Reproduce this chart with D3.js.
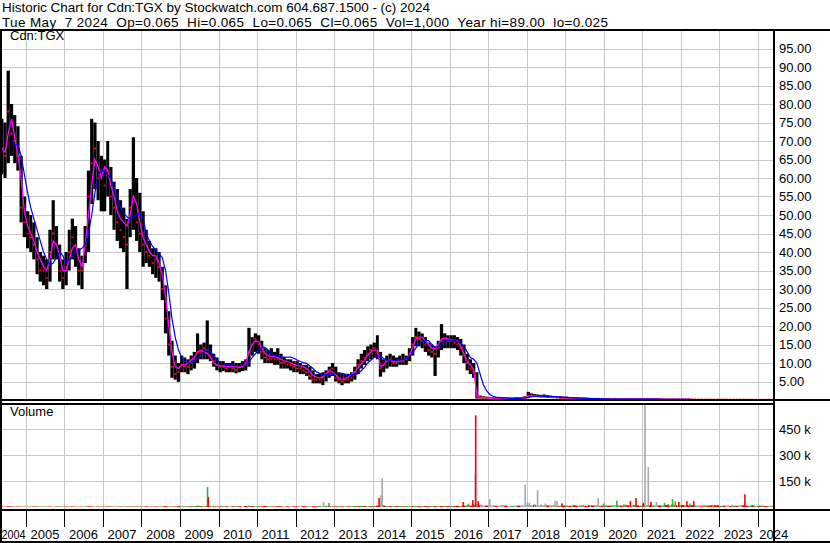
<!DOCTYPE html>
<html><head><meta charset="utf-8">
<script src="https://cdn.jsdelivr.net/npm/d3@7"></script>
<style>
html,body{margin:0;padding:0;background:#fff;}
svg{display:block;font-family:"Liberation Sans",Arial,sans-serif;}
</style></head><body>
<svg id="c" width="830" height="543"></svg>
<script>
// ---------------- DATA ----------------
const titleLine = "Historic Chart for Cdn:TGX by Stockwatch.com 604.687.1500 - (c) 2024";
const quoteLine = "Tue May  7 2024  Op=0.065  Hi=0.065  Lo=0.065  Cl=0.065  Vol=1,000  Year hi=89.00  lo=0.025";
const symbolLabel = "Cdn:TGX";
const volumeLabel = "Volume";
const firstMonth = "2004-05";               // monthly bars from May 2004 to May 2024
const yearLabels = [2004,2005,2006,2007,2008,2009,2010,2011,2012,2013,2014,2015,2016,2017,2018,2019,2020,2021,2022,2023,2024];
const priceTicks = [5,10,15,20,25,30,35,40,45,50,55,60,65,70,75,80,85,90,95];
const volumeTicks = [150,300,450];          // thousands

const high = [
 76,75,89,80,77,74,66,55,
 51,50,48,44,40,39,38,46,54,47,42,38,
 40,46,49,47,41,39,47,62,76,75,70,66,
 65,70,63,59,57,54,52,49,57,71,60,56,
 51,46,43,41,41,40,36,31,24,16,12,10,
 12,11.5,11,12,13,18,15,15.5,21.5,15,12.5,11.5,
 10.5,10.5,10,10,10.5,10,10,10.5,11,19.5,17,18,
 17.5,16,14,13.5,14,13,14,12.5,11.5,11,11,10.5,
 10.5,10,9.5,9.5,9,8,7,7,7.5,8,9,10,
 9,7.5,7,7,7,7.5,9,11,12.5,13.5,14.5,15,
 15.5,17.5,13,11,12,12.5,12,11.5,12,12.5,12,14,
 17,19.5,18.5,18,17,15.5,15,14.5,16,20.5,18,17.5,
 17.5,17.5,17,16.5,15,12.5,11,10,7.5,1.2,1,0.9,
 0.8,0.8,0.7,0.7,0.8,0.7,0.6,0.6,0.7,0.7,0.8,1.0,
 2.2,1.8,1.6,1.5,1.4,1.5,1.3,1.2,1.1,1.0,1.0,0.9,
 0.9,0.8,0.8,0.7,0.7,0.6,0.6,0.6,0.5,0.5,0.5,0.5,
 0.5,0.45,0.4,0.4,0.4,0.4,0.4,0.4,0.4,0.35,0.35,0.35,
 0.4,0.45,0.4,0.35,0.35,0.35,0.3,0.3,0.3,0.3,0.3,0.3,
 0.3,0.3,0.3,0.25,0.25,0.25,0.2,0.2,0.2,0.2,0.2,0.2,
 0.2,0.2,0.18,0.18,0.15,0.15,0.15,0.15,0.12,0.12,0.12,0.1,
 0.1,0.1,0.09,0.08,0.065];
const low = [
 61,60,64,66,64,62,48,44,
 41,40,38,34,32,31,30,32,38,38,32,30,
 31,35,38,36,31,30,37,40,53,57,54,51,
 51,55,50,46,43,41,40,30,44,46,43,40,
 36,37,36,34,33,32,27,18,12,6,5.5,4.9,
 7.5,7.5,7,8,8.5,10,11,11,11,10.5,9,8,
 7.5,7.8,7.5,7.5,7.5,7.2,7.5,7.8,8,9,12,13,
 12.5,11,10,10,10,9.5,9.5,8.5,8.5,8.5,8,7.5,
 7.5,7,7,6.5,5.5,4.5,4.5,4.5,4,5,6,6.5,
 5,4.5,4,4.5,4.5,5,5.5,7,8.5,9.5,10.5,11,
 11.5,11,6.3,7.5,8.5,9,9,9,9.5,9.5,9.5,10.5,
 12,14.5,14.5,14,13,12,11.5,6.5,11.5,13.5,14,14,
 14,14,13.5,12,10,8,7,6,0.4,0.4,0.4,0.4,
 0.4,0.4,0.3,0.3,0.3,0.3,0.3,0.3,0.3,0.3,0.3,0.4,
 0.5,0.8,0.8,0.8,0.7,0.7,0.6,0.6,0.5,0.5,0.4,0.4,
 0.4,0.3,0.3,0.3,0.3,0.2,0.2,0.2,0.2,0.2,0.2,0.2,
 0.15,0.15,0.1,0.15,0.15,0.15,0.15,0.15,0.15,0.12,0.12,0.12,
 0.12,0.15,0.15,0.12,0.12,0.12,0.1,0.1,0.1,0.1,0.1,0.1,
 0.1,0.1,0.1,0.08,0.08,0.08,0.07,0.07,0.07,0.06,0.06,0.06,
 0.06,0.06,0.05,0.05,0.05,0.05,0.04,0.04,0.04,0.04,0.03,0.03,
 0.03,0.03,0.025,0.04,0.05];
const close = [
 68,66,78,72,70,66,52,48,
 45,44,42,38,35,35,33,40,45,42,35,33,
 36,40,44,40,35,35,42,55,64,68,60,62,
 58,62,55,52,48,46,44,42,52,55,48,45,
 42,40,39,37,38,36,30,22,15,9,7,7.5,
 9.5,9,9,10,11,13,13,14,13.5,12,10.5,9.5,
 9,9,8.5,9,8.5,8,9,9,9.5,13,15,16.5,
 15,13,11.5,11,11,11,11,10,10,9.5,9.5,9,
 8.5,8.5,8,7.5,6.5,5.5,5.5,5.5,6,7,7.5,8.5,
 6,5.5,5,5.5,5.5,6,7.5,9.5,10.5,11.5,12.5,13.5,
 14,13,8.5,9.5,10.5,11,10,10,10.5,10.5,11,12.5,
 15,17,16.5,16,15,13.5,13,12.5,14,16,16.5,16,
 16,15.5,15,14,12,10,8.5,7.5,0.8,0.7,0.6,0.6,
 0.6,0.5,0.5,0.5,0.5,0.4,0.4,0.4,0.5,0.5,0.6,0.7,
 1.2,1.2,1.1,1.0,1.0,1.0,0.9,0.8,0.8,0.7,0.6,0.6,
 0.6,0.5,0.5,0.5,0.4,0.4,0.4,0.3,0.3,0.3,0.3,0.3,
 0.25,0.25,0.2,0.25,0.25,0.25,0.25,0.25,0.25,0.2,0.2,0.2,
 0.25,0.3,0.25,0.2,0.2,0.2,0.18,0.18,0.18,0.15,0.15,0.15,
 0.15,0.15,0.15,0.12,0.12,0.12,0.1,0.1,0.1,0.1,0.1,0.1,
 0.1,0.1,0.09,0.09,0.08,0.08,0.08,0.08,0.07,0.07,0.07,0.06,
 0.06,0.06,0.05,0.06,0.065];
const maFast = [   // magenta average
 68,67,72,76,71,66,60,51,
 47,45,43,40,38,36,35,38,43,42,39,35,
 35,38,41,42,38,36,42,50,58,65,63,60,
 63,62,58,55,51,49,48,47,50,55,53,48,
 44,42,40,39,39,37,34,28,20,13,9,8.5,
 9.5,9.5,10,10.8,11.5,13,13.5,13,12.6,11.5,10,9.5,
 9.3,9.2,9,9,9.2,9,8.8,9,10,13,15,16,
 15.8,14,12.6,12,11.8,11.7,11.5,11,10.6,10.4,10,9.6,
 9.4,9.2,9,8.5,7.6,6.6,6.2,6,6.3,7,8.1,7.5,
 6.8,5.8,5.6,5.8,6.2,7,7.6,8.8,9.8,10.8,12,13,
 13.5,13.5,9,9.5,10.8,10.8,10.4,10.3,10.5,11,11.3,12,
 14.4,16.5,17,17,16,15,14,13.8,15,16.5,16.8,16.5,
 16.3,16.2,16,14.5,12.5,10.5,9.5,8.2,1.2,0.8,0.7,0.6,
 0.6,0.55,0.5,0.5,0.5,0.45,0.4,0.4,0.45,0.5,0.55,0.65,
 1.0,1.2,1.15,1.05,1.0,1.0,0.95,0.85,0.8,0.75,0.65,0.6,
 0.6,0.55,0.5,0.5,0.45,0.4,0.4,0.35,0.3,0.3,0.3,0.3,
 0.28,0.25,0.22,0.23,0.25,0.25,0.25,0.25,0.25,0.22,0.2,0.2,
 0.22,0.28,0.26,0.22,0.2,0.2,0.19,0.18,0.18,0.16,0.15,0.15,
 0.15,0.15,0.15,0.13,0.12,0.12,0.11,0.1,0.1,0.1,0.1,0.1,
 0.1,0.1,0.09,0.09,0.08,0.08,0.08,0.08,0.07,0.07,0.07,0.06,
 0.06,0.06,0.055,0.06,0.065];
const maSlow = [   // blue average
 null,null,null,70,69,69,66,61,
 56,52,49,46,43,40,38,36.5,37,38.5,40,39,
 37,38,39,40,40.5,41,42,45,50,56,61,62,
 62,61,60,57,55,52,50.5,49.5,49,49.5,50,50.5,
 49,45,43,41.5,40.5,39.5,38.5,35,29,22,17,13.5,
 11.5,10.5,10,10,10.5,11.3,12,13,13.5,13,12,11,
 10,9.8,9.6,9.5,9.4,9.3,9.3,9.4,9.6,10.3,11.5,12.5,
 13.5,14.2,14.2,13.5,12.6,12,11.8,11.6,11.6,11.6,11.6,11.3,
 10.8,10.4,10.1,9.9,9.2,8.5,7.6,7.2,7,6.8,6.8,7,
 7.1,7.2,7.2,7,6.9,6.8,6.8,7.2,7.9,8.8,10,10.8,
 11.5,12,11.8,11.2,10.8,10.8,10.8,10.8,10.8,11,11.2,11.8,
 12.8,14,15.2,16,16.2,16,15,14.2,14.5,15,15.6,16.2,
 16.2,16.2,15.8,15.3,14.5,13,11.5,11,10,7,4.2,2.5,
 1.5,1.0,0.8,0.7,0.6,0.55,0.5,0.45,0.45,0.45,0.5,0.55,
 0.7,0.9,1.0,1.05,1.05,1.0,1.0,0.95,0.9,0.85,0.8,0.72,
 0.7,0.65,0.6,0.55,0.5,0.5,0.45,0.4,0.4,0.35,0.35,0.32,
 0.3,0.28,0.26,0.25,0.25,0.25,0.25,0.25,0.25,0.24,0.22,0.21,
 0.21,0.23,0.25,0.24,0.22,0.21,0.2,0.19,0.18,0.18,0.17,0.16,
 0.16,0.15,0.15,0.14,0.13,0.13,0.12,0.11,0.11,0.1,0.1,0.1,
 0.1,0.1,0.1,0.09,0.09,0.09,0.08,0.08,0.08,0.08,0.07,0.07,
 0.07,0.065,0.06,0.06,0.06];

// monthly background volume (thousands) and its colour class: u=up, d=down, n=unchanged
const volBase = [
 3,2,4,3,2,3,3,2,
 3,2,3,4,2,3,2,3,2,3,4,2,
 3,2,3,2,3,2,3,4,3,2,3,3,
 2,3,4,2,3,3,2,4,3,4,3,2,
 3,4,2,3,3,2,4,5,3,4,3,5,
 4,3,5,4,6,8,5,4,6,5,4,3,
 4,5,4,3,4,5,4,3,6,8,5,4,
 5,4,6,4,3,4,5,4,3,4,3,4,
 3,4,5,4,3,5,4,6,5,7,5,4,
 4,5,4,3,4,5,6,5,7,6,4,5,
 6,8,12,9,6,5,4,5,6,4,5,4,
 5,6,5,4,5,4,6,5,4,5,6,5,
 6,5,7,6,8,10,8,14,18,12,9,8,
 10,8,7,9,12,8,6,7,9,8,10,12,
 14,10,12,9,8,11,9,10,12,8,7,9,
 8,7,9,8,6,10,7,8,9,12,8,7,
 9,8,10,12,9,8,14,10,9,12,10,8,
 14,12,10,9,12,10,8,12,9,14,11,10,
 12,10,9,11,8,10,7,9,8,10,9,8,
 7,8,9,6,8,7,9,10,8,7,9,6,
 7,8,6,5,4];
const volBaseType = [
 "d","u","d","d","u","d","u","d",
 "u","d","d","u","d","u","d","d","u","d","u","d",
 "d","u","d","d","u","d","u","d","d","u","d","u",
 "d","d","u","d","u","d","d","u","d","u","d","d",
 "u","d","d","u","d","d","u","d","d","u","d","d",
 "u","d","u","d","u","u","d","u","d","u","d","u",
 "d","u","d","n","d","u","d","u","d","u","d","u",
 "u","d","d","u","d","u","d","d","u","d","u","d",
 "d","u","d","d","u","d","d","u","n","u","d","u",
 "d","u","d","u","d","u","u","d","u","d","u","d",
 "u","d","n","d","u","d","u","d","u","d","u","u",
 "d","u","d","u","d","d","u","d","u","d","u","d",
 "u","d","d","u","d","u","d","d","n","d","n","d",
 "n","n","d","n","n","d","n","u","n","d","n","n",
 "n","n","d","n","u","n","d","n","n","d","u","d",
 "u","d","u","d","n","u","d","u","d","n","u","d",
 "u","d","u","n","u","d","u","d","n","u","d","u",
 "d","n","d","u","n","d","u","d","u","u","d","u",
 "d","u","d","d","u","n","d","u","d","d","u","d",
 "u","d","n","d","u","d","n","d","d","u","d","u",
 "d","u","d","u","d"];

// individual heavy-volume days (thousands)
const spikeDates = ["2009-09-18","2009-09-25","2012-09-23","2012-11-13","2014-03-03","2014-03-21","2014-04-01",
 "2016-05-08","2016-06-28","2016-08-08","2016-09-01","2016-09-04","2016-09-28","2016-10-23",
 "2017-01-16","2017-02-21","2017-12-17","2018-01-08","2018-01-28","2018-03-17","2018-04-14","2018-05-18",
 "2018-06-28","2018-09-26","2018-10-16","2018-12-01","2019-01-14","2019-03-28","2019-05-19","2019-08-12",
 "2019-11-10","2020-01-01","2020-05-05","2020-09-10","2020-11-02","2021-01-12","2021-01-27","2021-02-27",
 "2021-03-25","2021-05-15","2021-07-30","2021-09-03","2021-10-15","2021-11-10","2021-12-14","2022-02-28",
 "2022-03-28","2022-05-04","2022-07-15","2022-11-20","2022-12-16","2023-05-01","2023-09-01","2023-11-10","2024-01-26"];
const spikeVol = [115,57,29,23,52,67,167,
 29,20,40,193,529,34,15,
 46,10,129,29,25,17,96,15,
 21,37,35,21,8,12,10,12,
 52,20,37,35,52,25,620,231,
 30,29,25,15,46,32,29,34,
 20,34,10,12,12,14,73,10,8];
const spikeType = ["u","d","n","u","d","n","n",
 "d","u","d","n","d","d","n",
 "n","n","n","n","n","n","n","n",
 "n","n","n","d","u","d","u","d",
 "n","u","u","d","d","d","n","n",
 "d","n","u","d","u","u","d","d",
 "u","d","n","d","d","n","d","d","u"];

// ---------------- DRAW ----------------
const svg = d3.select("#c");
const FONT = 13, HFONT = 13.5;
const FF = "Liberation Sans, Arial, sans-serif";
const plotL = 2, plotR = 773;
const priceTop = 31, priceBot = 399;
const volTop = 405, volBot = 509;

const x = d3.scaleUtc().domain([Date.UTC(2005,0,1), Date.UTC(2024,0,1)]).range([26, 757.7]);
const y = d3.scaleLinear().domain([0,100]).range([400,30]);
const yv = d3.scaleLinear().domain([0,600]).range([507,403]);

const [fy, fm] = firstMonth.split("-").map(Number);
const mStart = i => new Date(Date.UTC(fy, fm - 1 + i, 1));
const mMid = i => new Date((mStart(i).getTime() + mStart(i+1).getTime())/2);
const months = d3.range(high.length).map(i => ({
  i, t0: mStart(i), t1: mStart(i+1), tm: mMid(i),
  hi: high[i], lo: low[i], cl: close[i], f: maFast[i], s: maSlow[i],
  v: volBase[i], vt: volBaseType[i]
}));
const spikes = spikeDates.map((d,i) => ({t: new Date(d + "T12:00:00Z"), v: spikeVol[i], k: spikeType[i]}));
const volColor = {u:"#3cb043", d:"#ff0000", n:"#a8a8a8"};

svg.append("rect").attr("width",830).attr("height",543).attr("fill","#fff");

const defs = svg.append("defs");
defs.append("clipPath").attr("id","cp").append("rect")
  .attr("x",plotL).attr("y",priceTop).attr("width",plotR-plotL).attr("height",priceBot-priceTop);
defs.append("clipPath").attr("id","cv").append("rect")
  .attr("x",plotL).attr("y",volTop).attr("width",plotR-plotL).attr("height",volBot-volTop);

const grid = svg.append("g").attr("stroke","#c8c8c8").attr("stroke-width",1).attr("shape-rendering","crispEdges");
const yearDates = yearLabels.map(yr => new Date(Date.UTC(yr,0,1)));
const gridYears = yearDates.filter(d => x(d) > plotL && x(d) < plotR);
gridYears.forEach(d => {
  const gx = Math.round(x(d)) + 0.5;
  grid.append("line").attr("x1",gx).attr("x2",gx).attr("y1",priceTop).attr("y2",priceBot);
  grid.append("line").attr("x1",gx).attr("x2",gx).attr("y1",volTop).attr("y2",volBot);
});
priceTicks.forEach(v => {
  const gy = Math.round(y(v)) + 0.5;
  grid.append("line").attr("x1",plotL).attr("x2",plotR).attr("y1",gy).attr("y2",gy);
});
volumeTicks.forEach(v => {
  const gy = Math.round(yv(v)) + 0.5;
  grid.append("line").attr("x1",plotL).attr("x2",plotR).attr("y1",gy).attr("y2",gy);
});

// price bars
const gp = svg.append("g").attr("clip-path","url(#cp)");
gp.append("g").selectAll("rect").data(months).join("rect")
  .attr("x", d => x(d.t0)).attr("width", d => Math.max(1, x(d.t1) - x(d.t0)))
  .attr("y", d => y(d.hi)).attr("height", d => Math.max(1, y(d.lo) - y(d.hi)))
  .attr("fill","#000");
gp.append("g").selectAll("rect").data(months).join("rect")
  .attr("x", d => x(d.tm) - 1).attr("width", 2)
  .attr("y", d => y(d.cl) - 1).attr("height", 2)
  .attr("fill","#ff0000");
gp.append("path").datum(months)
  .attr("fill","none").attr("stroke","#ff00ff").attr("stroke-width",1.3)
  .attr("d", d3.line().defined(d => d.f != null).x(d => x(d.tm)).y(d => y(d.f)));
gp.append("path").datum(months)
  .attr("fill","none").attr("stroke","#0000ff").attr("stroke-width",1.2)
  .attr("d", d3.line().defined(d => d.s != null).x(d => x(d.tm)).y(d => y(d.s)));

// volume bars
const gv = svg.append("g").attr("clip-path","url(#cv)");
gv.append("g").selectAll("rect").data(months).join("rect")
  .attr("x", d => x(d.t0)).attr("width", d => x(d.t1) - x(d.t0))
  .attr("y", d => yv(d.v)).attr("height", d => yv(0) - yv(d.v))
  .attr("fill", d => volColor[d.vt]);
gv.append("g").selectAll("rect").data(spikes).join("rect")
  .attr("x", d => x(d.t) - 0.8).attr("width", 1.6)
  .attr("y", d => yv(Math.min(d.v, 650))).attr("height", d => yv(0) - yv(Math.min(d.v, 650)))
  .attr("fill", d => volColor[d.k]);

// label boxes
svg.append("rect").attr("x",2).attr("y",31).attr("width",60).attr("height",10).attr("fill","#fff");
svg.append("text").attr("x",10).attr("y",40).attr("font-size",FONT).text(symbolLabel);
svg.append("rect").attr("x",2).attr("y",405).attr("width",56).attr("height",11).attr("fill","#fff");
svg.append("text").attr("x",10).attr("y",415.5).attr("font-size",FONT).text(volumeLabel);

// frame
const frame = svg.append("g").attr("fill","#000");
frame.append("rect").attr("x",0).attr("y",29).attr("width",830).attr("height",2);
frame.append("rect").attr("x",0).attr("y",29).attr("width",2).attr("height",514);
frame.append("rect").attr("x",773).attr("y",29).attr("width",2).attr("height",514);
frame.append("rect").attr("x",0).attr("y",399).attr("width",830).attr("height",2);
frame.append("rect").attr("x",0).attr("y",403).attr("width",775).attr("height",2);
frame.append("rect").attr("x",0).attr("y",509).attr("width",830).attr("height",2);
frame.append("rect").attr("x",0).attr("y",541).attr("width",830).attr("height",2);

// right axes
const pa = svg.append("g").attr("transform","translate(775,0)")
  .call(d3.axisRight(y).tickValues(priceTicks).tickSize(0).tickPadding(4).tickFormat(d3.format(".2f")));
pa.select(".domain").remove();
pa.selectAll("text").attr("font-size",FONT).attr("font-family",FF).attr("fill","#000");
const va = svg.append("g").attr("transform","translate(775,0)")
  .call(d3.axisRight(yv).tickValues(volumeTicks).tickSize(0).tickPadding(4).tickFormat(d => d + " k"));
va.select(".domain").remove();
va.selectAll("text").attr("font-size",FONT).attr("font-family",FF).attr("fill","#000");

// bottom time axis
const xa = svg.append("g").attr("transform",`translate(0,${volBot+2})`)
  .call(d3.axisBottom(x).tickValues(yearDates).tickSize(16).tickFormat(d3.utcFormat("%Y")));
xa.select(".domain").remove();
xa.selectAll(".tick line").attr("stroke","#000").attr("shape-rendering","crispEdges");
const lastI = yearDates.length - 1;
xa.selectAll(".tick text").attr("font-size",FONT).attr("font-family",FF)
  .attr("fill","#000").attr("y",24).attr("dy","0.32em")
  .attr("text-anchor","start")
  .attr("x", (d,i) => i === 0 ? 1 - x(d) : (i === lastI ? 1 : 4))
  .each(function(d,i){ if (i === 0) d3.select(this).attr("textLength",24).attr("lengthAdjust","spacingAndGlyphs"); });

// header
svg.append("text").attr("x",2).attr("y",11.5).attr("font-size",HFONT)
  .attr("textLength",428).attr("lengthAdjust","spacing").text(titleLine);
svg.append("text").attr("x",2).attr("y",26.5).attr("font-size",HFONT).style("white-space","pre")
  .attr("textLength",606).attr("lengthAdjust","spacing").text(quoteLine);
</script>
</body></html>
